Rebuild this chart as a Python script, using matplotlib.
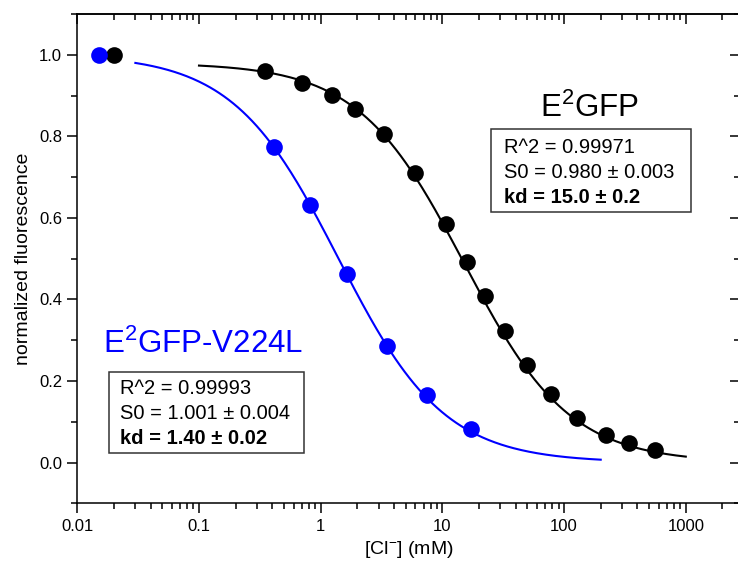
import numpy as np
import matplotlib
matplotlib.use("Agg")
import matplotlib.pyplot as plt
from matplotlib.patches import Rectangle
from matplotlib.ticker import MultipleLocator, FixedLocator

plt.rcParams['font.family'] = ['Liberation Sans', 'DejaVu Sans']
plt.rcParams['mathtext.fontset'] = 'custom'
plt.rcParams['mathtext.rm'] = 'Liberation Sans'
plt.rcParams['mathtext.it'] = 'Liberation Sans:italic'
plt.rcParams['mathtext.bf'] = 'Liberation Sans:bold'

# chloride titration, E2GFP
cl_e2gfp = [0.02, 0.35, 0.70, 1.23, 1.91, 3.31, 5.96, 10.7, 15.8, 22.4,
            32.7, 49.9, 77.6, 127, 221, 343, 561]
f_e2gfp = [1.0, 0.961, 0.932, 0.902, 0.867, 0.806, 0.709, 0.586, 0.491,
           0.408, 0.322, 0.240, 0.169, 0.108, 0.067, 0.048, 0.030]

# chloride titration, E2GFP-V224L
cl_v224l = [0.015, 0.41, 0.817, 1.64, 3.49, 7.50, 17.1]
f_v224l = [1.0, 0.775, 0.632, 0.463, 0.287, 0.165, 0.081]

# fit results: S = S0 / (1 + [Cl]/kd)
s0_e2gfp, kd_e2gfp = 0.980, 15.0
s0_v224l, kd_v224l = 1.001, 1.40
fit_range_e2gfp = (0.1, 1000)
fit_range_v224l = (0.03, 200)

x_ticks = [0.01, 0.1, 1, 10, 100, 1000]
x_ticklabels = ['0.01', '0.1', '1', '10', '100', '1000']
y_ticks = [0.0, 0.2, 0.4, 0.6, 0.8, 1.0]
y_ticklabels = ['0.0', '0.2', '0.4', '0.6', '0.8', '1.0']

blue = '#0000FF'

fig = plt.figure(figsize=(7.38, 5.71), dpi=100)
W, H = 738, 571
ax_l, ax_r, ax_t, ax_b = 77.3, 740.2, 14, 503.3
ax = fig.add_axes([ax_l / W, 1 - ax_b / H, (ax_r - ax_l) / W, (ax_b - ax_t) / H])

x1 = np.geomspace(*fit_range_e2gfp, 300)
x2 = np.geomspace(*fit_range_v224l, 300)
ax.plot(x1, s0_e2gfp / (1 + x1 / kd_e2gfp), color='black', lw=1.5, zorder=2)
ax.plot(x2, s0_v224l / (1 + x2 / kd_v224l), color=blue, lw=1.5, zorder=2)
ax.plot(cl_e2gfp, f_e2gfp, 'o', color='black', ms=12, mew=0, zorder=3)
ax.plot(cl_v224l, f_v224l, 'o', color=blue, ms=12, mew=0, zorder=3)

ax.set_xscale('log')
ax.set_xlim(0.01, 2800)
ax.set_ylim(-0.1, 1.1)
ax.set_yticks(y_ticks)
ax.set_yticklabels(y_ticklabels)
ax.yaxis.set_minor_locator(MultipleLocator(0.1))
ax.set_xticks(x_ticks)
ax.set_xticklabels(x_ticklabels)

for s in ax.spines.values():
    s.set_linewidth(1.1)
ax.tick_params(which='both', direction='out', width=1.1, labelsize=12, pad=4,
               top=False, right=False)
ax.tick_params(which='major', length=7)
ax.tick_params(which='minor', length=4)

# mirrored ticks on top and right, pointing inward
sec_x = ax.secondary_xaxis('top')
sec_x.set_xticks(x_ticks)
sec_x.tick_params(which='both', direction='in', width=1.1, labeltop=False)
sec_x.tick_params(which='major', length=7)
sec_x.tick_params(which='minor', length=4)
sec_y = ax.secondary_yaxis('right')
sec_y.set_yticks(y_ticks)
sec_y.yaxis.set_minor_locator(MultipleLocator(0.1))
sec_y.tick_params(which='both', direction='in', width=1.1, labelright=False)
sec_y.tick_params(which='major', length=7)
sec_y.tick_params(which='minor', length=4)
for sec in (sec_x, sec_y):
    for s in sec.spines.values():
        s.set_linewidth(1.1)

ax.set_xlabel(r'[Cl$^{\mathregular{-}}$] (mM)', fontsize=14)
ax.xaxis.set_label_coords(0.5, -0.072)
ax.set_ylabel('normalized fluorescence', fontsize=14)
ax.yaxis.set_label_coords(-0.068, 0.5)


def frac(px, py):
    return (px - ax_l) / (ax_r - ax_l), (ax_b - py) / (ax_b - ax_t)


ax.text(*frac(589, 116.7), r'E$^{\mathregular{2}}$GFP', transform=ax.transAxes,
        fontsize=22.5, ha='center', va='baseline')
ax.text(*frac(103.3, 352.7), r'E$^{\mathregular{2}}$GFP-V224L', transform=ax.transAxes,
        fontsize=22.5, ha='left', va='baseline', color=blue)


def stats_box(x0, y0, x1, y1, tx, baselines, r2, s0, s0_err, kd, kd_err):
    bx, by = frac(x0, y1)
    bw = (x1 - x0) / (ax_r - ax_l)
    bh = (y1 - y0) / (ax_b - ax_t)
    ax.add_patch(Rectangle((bx, by), bw, bh, transform=ax.transAxes,
                           fill=False, ec='#333333', lw=1.1, zorder=4))
    lines = [f'R^2 = {r2}', f'S0 = {s0} \u00b1 {s0_err}', f'kd = {kd} \u00b1 {kd_err}']
    for i, (line, yb) in enumerate(zip(lines, baselines)):
        ax.text(*frac(tx, yb), line, transform=ax.transAxes, fontsize=14.5,
                ha='left', va='baseline', fontweight='bold' if i == 2 else 'normal')


stats_box(490.7, 129, 690.7, 211.7, 504, [153.3, 177.7, 202.7],
          '0.99971', '0.980', '0.003', '15.0', '0.2')
stats_box(109, 372.3, 304.3, 452.7, 120, [394, 419, 444.3],
          '0.99993', '1.001', '0.004', '1.40', '0.02')

fig.savefig('out.png', dpi=100)
